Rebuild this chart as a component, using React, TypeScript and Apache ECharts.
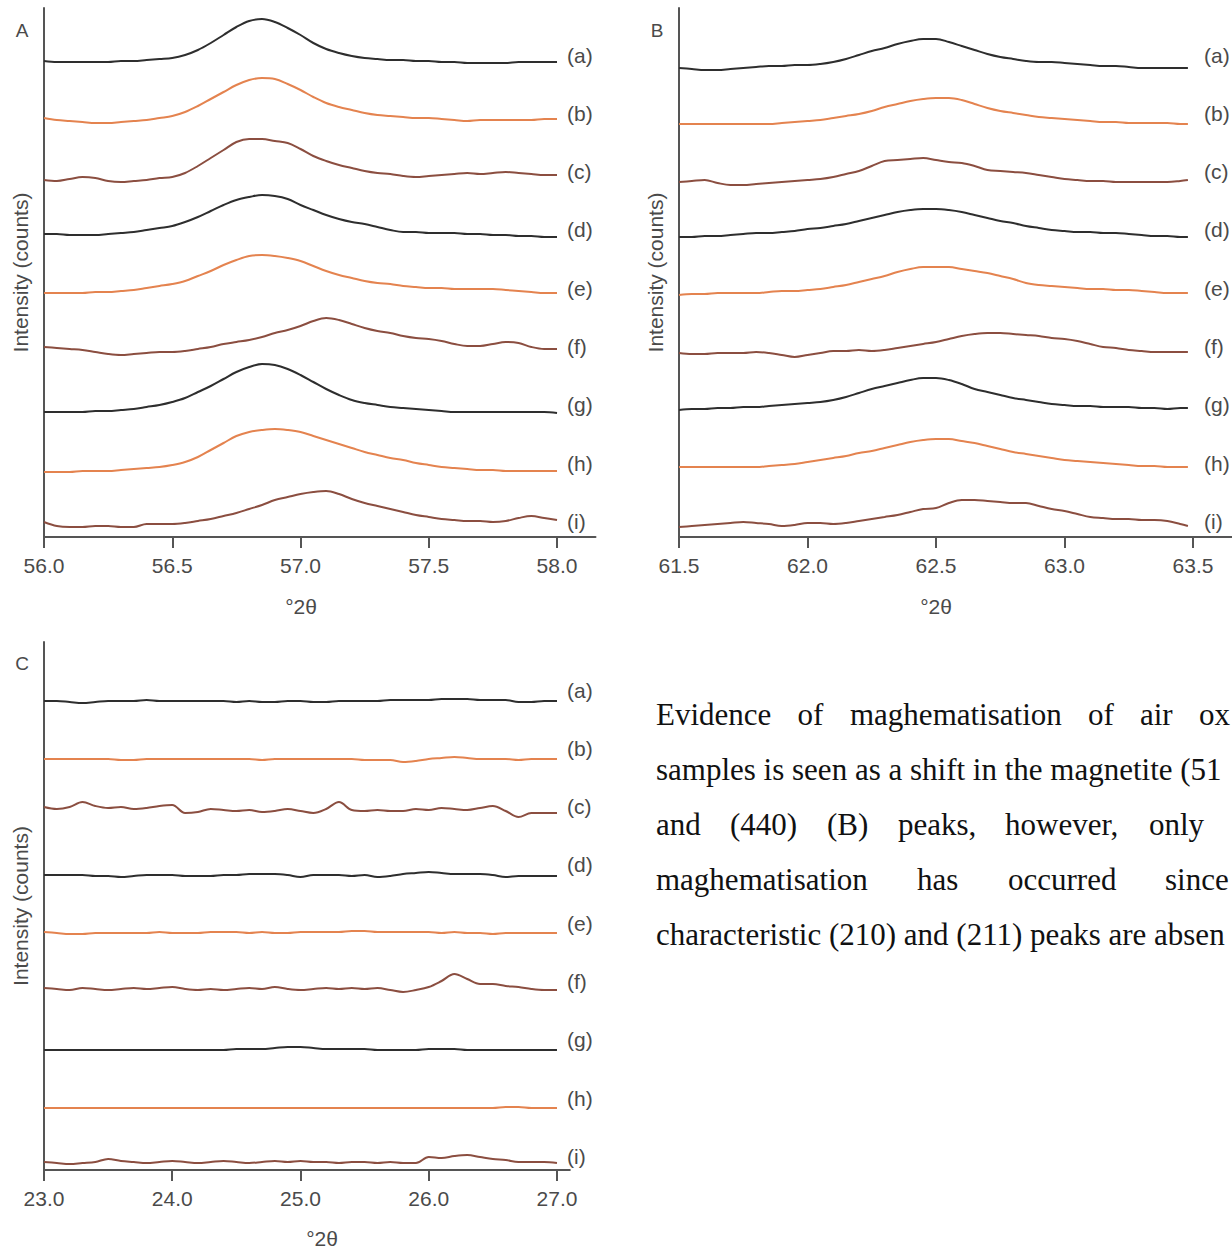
import React, { useEffect, useRef } from "react";
import * as echarts from "echarts";

const SAMPLE_LABELS = ["(a)", "(b)", "(c)", "(d)", "(e)", "(f)", "(g)", "(h)", "(i)"];
const PANEL_LETTERS = ["A", "B", "C"];
const A_TICKS = [56.0, 56.5, 57.0, 57.5, 58.0];
const B_TICKS = [61.5, 62.0, 62.5, 63.0, 63.5];
const C_TICKS = [23.0, 24.0, 25.0, 26.0, 27.0];
const X_TITLE = "°2θ";
const Y_TITLE = "Intensity (counts)";

// Panel A: (511) region
const A_X = [56.00, 56.05, 56.10, 56.15, 56.20, 56.25, 56.30, 56.35, 56.40, 56.45, 56.50, 56.55, 56.60, 56.65, 56.70, 56.75, 56.80, 56.85, 56.90, 56.95, 57.00, 57.05, 57.10, 57.15, 57.20, 57.25, 57.30, 57.35, 57.40, 57.45, 57.50, 57.55, 57.60, 57.65, 57.70, 57.75, 57.80, 57.85, 57.90, 57.95, 58.00];
const A_a = [476, 475, 475, 475, 475, 475, 476, 476, 477, 478, 479, 482, 487, 494, 502, 510, 516, 518, 515, 509, 502, 494, 488, 484, 481, 479, 478, 477, 477, 476, 476, 475, 475, 474, 474, 474, 474, 475, 475, 475, 475];
const A_b = [419, 417, 416, 415, 414, 414, 415, 416, 417, 419, 421, 425, 431, 438, 445, 452, 457, 459, 458, 453, 447, 440, 434, 430, 427, 424, 422, 421, 420, 419, 419, 418, 417, 416, 417, 417, 417, 417, 417, 418, 418];
const A_c = [357, 356, 358, 360, 359, 356, 355, 356, 357, 359, 360, 364, 371, 379, 387, 395, 398, 398, 396, 394, 388, 381, 376, 372, 369, 366, 364, 363, 361, 360, 361, 362, 363, 364, 363, 364, 365, 364, 363, 362, 362];
const A_d = [303, 303, 302, 302, 302, 303, 304, 305, 307, 309, 311, 315, 320, 326, 332, 337, 340, 342, 341, 338, 332, 327, 322, 318, 315, 313, 310, 307, 305, 305, 304, 304, 304, 303, 303, 302, 302, 301, 301, 300, 300];
const A_e = [244, 244, 244, 244, 245, 245, 246, 247, 249, 251, 253, 256, 261, 266, 272, 277, 281, 282, 281, 279, 276, 271, 266, 262, 259, 256, 254, 253, 251, 250, 249, 249, 248, 248, 248, 248, 247, 246, 245, 244, 244];
const A_f = [190, 189, 188, 187, 185, 183, 182, 183, 184, 185, 185, 186, 188, 190, 193, 195, 197, 200, 204, 207, 211, 216, 219, 217, 213, 209, 206, 204, 201, 199, 198, 196, 193, 191, 191, 193, 195, 194, 190, 188, 188];
const A_g = [125, 125, 125, 125, 126, 126, 127, 128, 130, 132, 135, 139, 145, 151, 158, 165, 170, 173, 172, 168, 162, 155, 148, 142, 137, 134, 132, 130, 129, 128, 127, 126, 125, 125, 125, 125, 125, 125, 125, 125, 124];
const A_h = [65, 65, 65, 66, 66, 66, 67, 68, 69, 70, 72, 75, 80, 87, 94, 101, 105, 107, 108, 107, 105, 101, 97, 93, 89, 85, 82, 79, 77, 74, 72, 70, 69, 68, 67, 67, 66, 66, 66, 66, 66];
const A_i = [15, 11, 10, 10, 11, 11, 10, 10, 13, 13, 13, 14, 16, 18, 21, 24, 28, 32, 37, 40, 43, 45, 46, 43, 38, 34, 31, 28, 25, 22, 20, 18, 17, 16, 16, 15, 16, 19, 21, 19, 17];

// Panel B: (440) region
const B_X = [61.50, 61.55, 61.60, 61.65, 61.70, 61.75, 61.80, 61.85, 61.90, 61.95, 62.00, 62.05, 62.10, 62.15, 62.20, 62.25, 62.30, 62.35, 62.40, 62.45, 62.50, 62.55, 62.60, 62.65, 62.70, 62.75, 62.80, 62.85, 62.90, 62.95, 63.00, 63.05, 63.10, 63.15, 63.20, 63.25, 63.30, 63.35, 63.40, 63.45, 63.48];
const B_a = [469, 468, 467, 467, 468, 469, 470, 471, 471, 472, 472, 473, 475, 478, 482, 486, 489, 493, 496, 498, 498, 495, 491, 487, 483, 480, 478, 476, 475, 475, 474, 473, 472, 471, 471, 470, 469, 469, 469, 469, 469];
const B_b = [413, 413, 413, 413, 413, 413, 413, 413, 414, 415, 416, 417, 419, 421, 423, 426, 430, 433, 436, 438, 439, 439, 437, 433, 429, 426, 424, 422, 420, 419, 418, 417, 416, 415, 415, 414, 414, 414, 414, 413, 413];
const B_c = [355, 356, 357, 354, 352, 352, 353, 354, 355, 356, 357, 358, 360, 363, 366, 371, 376, 377, 378, 379, 377, 375, 374, 371, 367, 366, 365, 364, 362, 360, 358, 357, 356, 356, 355, 355, 355, 355, 355, 356, 357];
const B_d = [300, 300, 301, 301, 302, 303, 304, 304, 305, 306, 308, 309, 311, 313, 316, 319, 322, 325, 327, 328, 328, 327, 325, 322, 319, 316, 314, 311, 309, 307, 306, 305, 305, 304, 304, 303, 302, 301, 301, 300, 300];
const B_e = [242, 243, 243, 244, 244, 244, 244, 245, 246, 246, 247, 248, 250, 252, 255, 258, 261, 265, 268, 270, 270, 270, 268, 266, 264, 261, 258, 254, 252, 251, 250, 249, 248, 248, 247, 247, 246, 245, 244, 244, 244];
const B_f = [184, 183, 183, 184, 184, 184, 185, 184, 182, 180, 182, 184, 186, 186, 187, 186, 187, 189, 191, 193, 195, 198, 201, 203, 204, 204, 203, 202, 201, 199, 198, 196, 193, 190, 189, 187, 186, 185, 185, 185, 185];
const B_g = [127, 128, 128, 129, 129, 130, 130, 131, 132, 133, 134, 135, 137, 140, 144, 148, 151, 154, 157, 159, 159, 157, 153, 148, 145, 142, 139, 137, 135, 133, 132, 131, 131, 130, 130, 130, 129, 129, 128, 129, 129];
const B_h = [70, 70, 70, 70, 70, 70, 70, 71, 72, 73, 75, 77, 79, 81, 84, 86, 89, 92, 95, 97, 98, 98, 96, 94, 91, 88, 85, 83, 81, 79, 77, 76, 75, 74, 73, 72, 71, 71, 70, 70, 70];
const B_i = [10, 11, 12, 13, 14, 15, 14, 13, 11, 12, 14, 14, 13, 14, 16, 18, 20, 22, 25, 28, 29, 34, 37, 37, 36, 35, 34, 34, 31, 28, 26, 23, 20, 19, 18, 18, 17, 17, 16, 13, 11];

// Panel C: (210)/(211) region
const C_X = [23.0, 23.1, 23.2, 23.3, 23.4, 23.5, 23.6, 23.7, 23.8, 23.9, 24.0, 24.1, 24.2, 24.3, 24.4, 24.5, 24.6, 24.7, 24.8, 24.9, 25.0, 25.1, 25.2, 25.3, 25.4, 25.5, 25.6, 25.7, 25.8, 25.9, 26.0, 26.1, 26.2, 26.3, 26.4, 26.5, 26.6, 26.7, 26.8, 26.9, 27.0];
const C_a = [469, 469, 468, 467, 468, 469, 469, 469, 470, 469, 469, 469, 469, 469, 469, 468, 469, 468, 468, 469, 469, 468, 468, 469, 469, 469, 469, 470, 470, 470, 470, 471, 471, 471, 470, 470, 470, 468, 468, 469, 469];
const C_b = [411, 411, 411, 411, 411, 411, 410, 410, 411, 411, 411, 411, 411, 411, 411, 411, 411, 410, 411, 411, 411, 411, 411, 411, 411, 410, 410, 410, 408, 409, 411, 412, 413, 412, 411, 411, 411, 410, 411, 411, 411];
const C_c = [363, 361, 363, 368, 364, 362, 363, 361, 362, 364, 365, 357, 358, 361, 360, 359, 360, 358, 359, 361, 359, 357, 361, 368, 360, 359, 360, 359, 359, 361, 360, 362, 361, 360, 362, 364, 359, 353, 357, 357, 357];
const C_d = [295, 295, 295, 295, 294, 294, 293, 294, 295, 295, 295, 294, 294, 294, 295, 295, 296, 296, 296, 295, 293, 295, 295, 295, 294, 295, 293, 294, 296, 297, 298, 297, 296, 296, 296, 295, 293, 294, 294, 294, 294];
const C_e = [238, 237, 236, 236, 237, 237, 237, 237, 237, 238, 237, 237, 237, 238, 238, 238, 237, 238, 237, 237, 238, 238, 238, 238, 239, 239, 238, 238, 238, 238, 238, 237, 238, 237, 237, 236, 237, 237, 237, 237, 237];
const C_f = [182, 181, 180, 182, 181, 180, 181, 182, 181, 182, 183, 181, 180, 181, 180, 181, 182, 181, 183, 181, 180, 181, 182, 181, 182, 181, 182, 180, 178, 180, 183, 189, 196, 191, 186, 186, 184, 183, 181, 180, 180];
const C_g = [120, 120, 120, 120, 120, 120, 120, 120, 120, 120, 120, 120, 120, 120, 120, 121, 121, 121, 122, 123, 123, 122, 121, 121, 121, 121, 120, 120, 120, 120, 121, 121, 121, 120, 120, 120, 120, 120, 120, 120, 120];
const C_h = [62, 62, 62, 62, 62, 62, 62, 62, 62, 62, 62, 62, 62, 62, 62, 62, 62, 62, 62, 62, 62, 62, 62, 62, 62, 62, 62, 62, 62, 62, 62, 62, 62, 62, 62, 62, 63, 63, 62, 62, 62];
const C_i = [8, 7, 6, 7, 8, 11, 9, 8, 7, 8, 9, 8, 7, 8, 9, 8, 7, 8, 9, 8, 9, 8, 8, 7, 8, 8, 7, 8, 7, 7, 13, 12, 14, 15, 13, 11, 10, 8, 8, 8, 7];

const PARA_LINE_1 = ["Evidence", "of", "maghematisation", "of", "air", "ox"];
const PARA_LINE_2 = "samples is seen as a shift in the magnetite (51";
const PARA_LINE_3 = ["and", "(440)", "(B)", "peaks,", "however,", "only"];
const PARA_LINE_4 = ["maghematisation", "has", "occurred", "since"];
const PARA_LINE_5 = "characteristic (210) and (211) peaks are absen";

const COLORS = ["#2e2e2e", "#e4834f", "#8b4e40"];
const SANS = "'Liberation Sans', Arial, sans-serif";
const SERIF = "'Liberation Serif', 'Times New Roman', serif";

export default function App() {
  const ref = useRef<HTMLDivElement>(null);
  useEffect(() => {
    if (!ref.current) return;
    const chart = echarts.init(ref.current, undefined, { renderer: "svg" });

    const panels = [
      { xs: A_X, ys: [A_a, A_b, A_c, A_d, A_e, A_f, A_g, A_h, A_i], ticks: A_TICKS, min: 56, max: 58.15, grid: { left: 44, top: 8, width: 551.5, height: 529 } },
      { xs: B_X, ys: [B_a, B_b, B_c, B_d, B_e, B_f, B_g, B_h, B_i], ticks: B_TICKS, min: 61.5, max: 63.65, grid: { left: 679, top: 8, width: 552.6, height: 529 } },
      { xs: C_X, ys: [C_a, C_b, C_c, C_d, C_e, C_f, C_g, C_h, C_i], ticks: C_TICKS, min: 23, max: 27.1, grid: { left: 44, top: 642, width: 525.8, height: 528 } },
    ];

    const axisColor = "#555";
    const textColor = "#4a4a4a";

    const xAxis = panels.map((p, k) => ({
      type: "value",
      gridIndex: k,
      min: p.min,
      max: p.max,
      axisLine: { show: true, onZero: false, lineStyle: { color: axisColor, width: 2 } },
      axisTick: { show: true, inside: false, length: 11, customValues: p.ticks, lineStyle: { color: axisColor, width: 2 } },
      axisLabel: {
        customValues: p.ticks,
        formatter: (v: number) => v.toFixed(1),
        color: textColor,
        fontSize: 21,
        fontFamily: SANS,
        margin: 18,
      },
      splitLine: { show: false },
    }));

    const yAxis = panels.map((p, k) => ({
      type: "value",
      gridIndex: k,
      min: 0,
      max: p.grid.height,
      axisLine: { show: true, lineStyle: { color: axisColor, width: 2 } },
      axisTick: { show: false },
      axisLabel: { show: false },
      splitLine: { show: false },
      name: Y_TITLE,
      nameLocation: "middle",
      nameRotate: 90,
      nameGap: 13,
      nameTextStyle: { color: textColor, fontSize: 21, fontFamily: SANS },
    }));

    const series: any[] = [];
    panels.forEach((p, k) => {
      p.ys.forEach((ys, j) => {
        series.push({
          type: "line",
          name: `${PANEL_LETTERS[k]} ${SAMPLE_LABELS[j]}`,
          xAxisIndex: k,
          yAxisIndex: k,
          data: p.xs.map((x, i) => [x, ys[i]]),
          showSymbol: false,
          symbol: "none",
          smooth: 0.35,
          lineStyle: { color: COLORS[j % 3], width: 2 },
          silent: true,
        });
      });
    });

    const graphic: any[] = [];
    const txt = (x: number, y: number, text: string, size: number, family: string, fill: string, align = "left") => ({
      type: "text",
      x,
      y,
      style: { text, fill, fontSize: size, fontFamily: family, textAlign: align, textVerticalAlign: "middle" },
    });
    // panel letters
    const letterPos = [[22, 30], [657, 30], [22, 663]];
    PANEL_LETTERS.forEach((t, k) => graphic.push(txt(letterPos[k][0], letterPos[k][1], t, 19, SANS, textColor, "center")));
    // sample labels
    const labelStart = [[567, 55], [1204, 55], [567, 690]];
    panels.forEach((p, k) => {
      SAMPLE_LABELS.forEach((t, j) => graphic.push(txt(labelStart[k][0], labelStart[k][1] + j * 58.3, t, 21, SANS, textColor)));
    });
    // x-axis titles
    const titlePos = [[301, 606], [936, 606], [322, 1238]];
    titlePos.forEach((pos) => graphic.push(txt(pos[0], pos[1], X_TITLE, 21, SANS, textColor, "center")));

    // paragraph (justified lines)
    const ink = "#111";
    const PS = 31;
    const lineY = [714, 769, 824, 879, 934];
    const line1X = [656, 797.5, 850, 1088, 1140, 1199];
    PARA_LINE_1.forEach((w, i) => graphic.push(txt(line1X[i], lineY[0], w, PS, SERIF, ink)));
    graphic.push(txt(656, lineY[1], PARA_LINE_2, PS, SERIF, ink));
    const line3X = [656, 730, 827, 898, 1005, 1149];
    PARA_LINE_3.forEach((w, i) => graphic.push(txt(line3X[i], lineY[2], w, PS, SERIF, ink)));
    const line4X = [656, 917, 1008, 1165];
    PARA_LINE_4.forEach((w, i) => graphic.push(txt(line4X[i], lineY[3], w, PS, SERIF, ink)));
    graphic.push(txt(656, lineY[4], PARA_LINE_5, PS, SERIF, ink));

    chart.setOption({
      animation: false,
      backgroundColor: "#ffffff",
      grid: panels.map((p) => ({ ...p.grid, containLabel: false })),
      xAxis,
      yAxis,
      series,
      graphic,
    });

    return () => chart.dispose();
  }, []);

  return <div ref={ref} style={{ position: "absolute", left: 0, top: 0, width: 1232, height: 1251 }} />;
}
